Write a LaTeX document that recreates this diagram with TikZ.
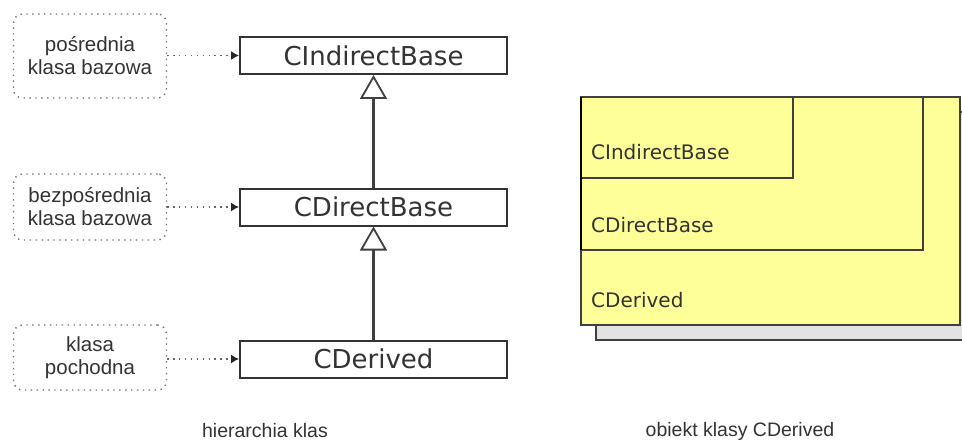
\documentclass[tikz,border=0pt]{standalone}
\usepackage{fontspec}
\setmainfont{Liberation Sans}
\newfontfamily\dejavu{DejaVu Sans}
\usetikzlibrary{arrows.meta}
\definecolor{objyellow}{HTML}{FFFF99}
\definecolor{txt}{HTML}{333333}
\definecolor{shade}{HTML}{E2E2E2}
\begin{document}
\begin{tikzpicture}[x=1pt,y=-1pt,
  classbox/.style={draw=black!80, line width=2pt, fill=white, minimum width=267pt, minimum height=37pt, inner sep=0pt, text=txt, font=\dejavu\fontsize{26}{30}\selectfont},
  notebox/.style={draw=black!55, line width=1.4pt, dash pattern=on 1.4pt off 4.5pt, rounded corners=9pt, minimum width=153pt, align=center, inner sep=0pt, text=txt, font=\fontsize{20.5}{23}\selectfont},
  pointer/.style={draw=black!60, line width=1.4pt, dash pattern=on 1.4pt off 4.5pt, -{Latex[length=8pt,width=9pt,black!85]}},
  inherit/.style={draw=black!75, line width=2.2pt, -{Triangle[length=24pt,width=27pt,fill=white,line width=1.8pt]}},
  objbox/.style={draw=black!75, line width=1.3pt, fill=objyellow},
  objtext/.style={anchor=west, inner sep=0pt, text=txt, font=\dejavu\fontsize{20}{24}\selectfont},
  caption/.style={text=txt, font=\fontsize{19.5}{23}\selectfont}]
\fill[white] (0,0) rectangle (962,444);
\useasboundingbox (0,0) rectangle (962,444);

% class hierarchy
\node[classbox] (ib) at (373.5,55.5) {CIndirectBase};
\node[classbox] (db) at (373.5,207) {CDirectBase};
\node[classbox] (de) at (373.5,359) {CDerived};

\node[notebox, minimum height=84pt] (n1) at (90,56) {pośrednia\\klasa bazowa};
\node[notebox, minimum height=66pt] (n2) at (90,207) {bezpośrednia\\klasa bazowa};
\node[notebox, minimum height=65pt] (n3) at (90,357.5) {klasa\\pochodna};

\draw[pointer] (n1.east |- ib.west) -- (ib.west);
\draw[pointer] (n2.east |- db.west) -- (db.west);
\draw[pointer] (n3.east |- de.west) -- (de.west);

\draw[inherit] (db.north) -- (ib.south);
\draw[inherit] (de.north) -- (db.south);

% object layout
\filldraw[fill=shade, draw=black!75, line width=1.2pt] (596,112) rectangle (980,340);
\filldraw[objbox] (581,97) rectangle (960,325);
\filldraw[objbox] (581,97) rectangle (923,250);
\filldraw[objbox] (581,97) rectangle (793,178);
\draw[black, line width=1.5pt] (581,97) -- (581,250);

\node[objtext] (t1) at (591,152) {CIndirectBase};
\node[objtext] (t2) at (591,225) {CDirectBase};
\node[objtext] (t3) at (591,300) {CDerived};

% captions
\node[caption] (c1) at (265,431) {hierarchia klas};
\node[caption] (c2) at (740,431) {obiekt klasy CDerived};
\end{tikzpicture}
\end{document}
